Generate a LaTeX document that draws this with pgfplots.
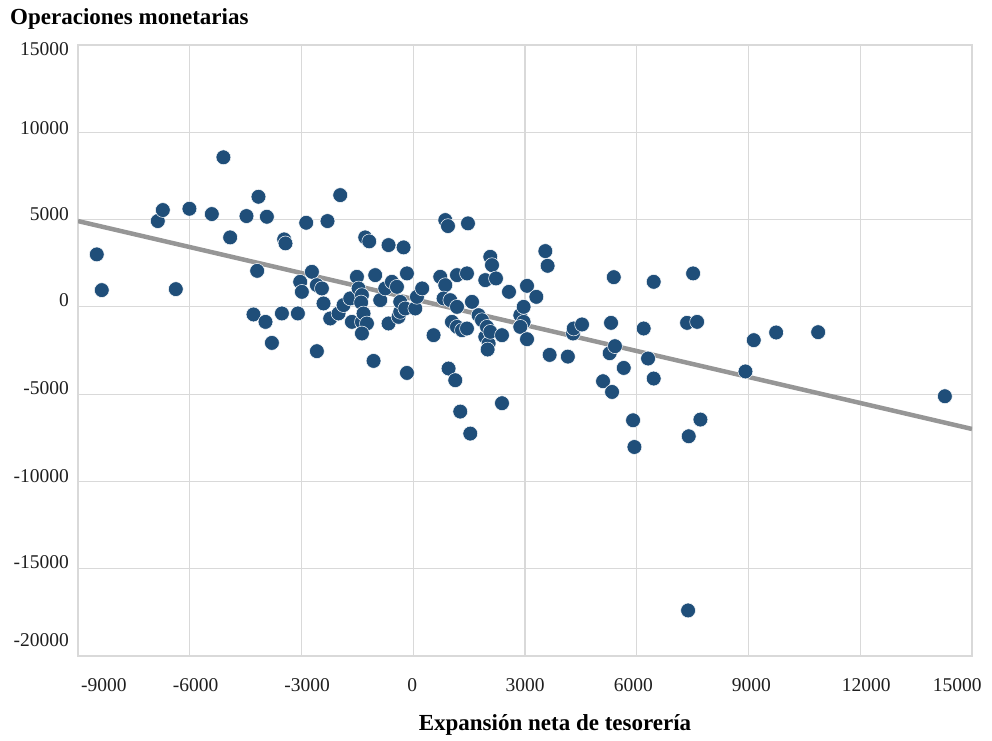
\documentclass[border=0pt]{standalone}
\usepackage{pgfplots}
\pgfplotsset{compat=1.18}
\usepackage{pgfplotstable}
\usepackage{fontspec}
\setmainfont{Liberation Serif}
\definecolor{dotblue}{RGB}{31,78,121}
\definecolor{gridgray}{RGB}{217,217,217}
\definecolor{trendgray}{RGB}{150,150,150}
\pgfplotstableread{
x y
-8496 3005
-8362 958
-6858 4914
-6723 5545
-6374 1015
-6009 5620
-5407 5315
-5096 8567
-4915 3979
-4477 5201
-4289 -436
-4190 2064
-4155 6307
-3967 -860
-3930 5161
-3795 -2064
-3526 -378
-3465 3864
-3430 3635
-3097 -378
-3035 1434
-2990 860
-2874 4817
-2721 2007
-2587 1244
-2587 -2540
-2452 1055
-2409 195
-2302 4914
-2229 -665
-2006 -378
-1872 100
-1692 482
-1960 6400
-1512 1720
-1468 1055
-1378 671
-1400 250
-1647 -860
-1378 -860
-1335 -378
-1244 -952
-1378 -1525
-1289 3979
-1182 3750
-1066 -3096
-1021 1818
-886 384
-752 1055
-663 3538
-663 -952
-572 1434
-438 1147
-395 -573
-349 -287
-349 287
-260 3406
-215 -92
-169 1915
-169 -3784
54 -92
99 573
240 1055
545 -1623
725 1720
860 1244
814 482
994 384
860 4971
932 4627
948 -3532
1039 -860
1128 -4203
1174 1818
1174 0
1174 -1147
1262 -5998
1308 -1336
1442 1915
1442 -1240
1469 4782
1531 -7259
1577 287
1754 -476
1845 -763
1934 1531
1934 -1720
1980 -1147
2023 -2100
1996 -2443
2068 -1433
2068 2867
2114 2391
2221 1628
2382 -1623
2382 -5520
2570 860
2874 -476
2963 -860
2874 -1147
2963 0
3054 -1852
3054 1204
3304 573
3546 3194
3607 2351
3661 -2752
4150 -2850
4290 -1525
4307 -1240
4531 -1009
5095 -4260
5273 -2655
5337 -4874
5310 -917
5383 1700
5415 -2253
5651 -3498
5901 -6497
5937 -8028
6186 -1240
6304 -2959
6455 1434
6455 -4106
7351 -917
7378 -17391
7395 -7414
7513 1915
7620 -860
7709 -6456
8918 -3700
9141 -1909
9742 -1468
10870 -1451
14271 -5121
}\datatable
\begin{document}
\begin{tikzpicture}
\useasboundingbox (0,0) rectangle (992pt,740pt);
\begin{axis}[
  at={(78pt,84pt)}, anchor=south west,
  width=894pt, height=611pt, scale only axis,
  xmin=-9000, xmax=15000, ymin=-20000, ymax=15000,
  scaled ticks=false,
  xtick={-9000,-6000,-3000,0,3000,6000,9000,12000,15000},
  ytick={-20000,-15000,-10000,-5000,0,5000,10000,15000},
  xticklabels={,,,,,,,,}, yticklabels={,,,,,,,},
  extra x ticks={-8308,-5842,-2847,-27,3000,5911,9076,12160,14604},
  extra x tick labels={-9000,-6000,-3000,0,3000,6000,9000,12000,15000},
  extra y ticks={-19111,-14639,-9690,-4662,384,5315,10247,14777},
  extra y tick labels={-20000,-15000,-10000,-5000,0,5000,10000,15000},
  extra tick style={grid=none, major tick length=0pt},
  grid=major, grid style={draw=gridgray, line width=1.1pt},
  axis line style={draw=gridgray, line width=1.1pt},
  major tick length=0pt,
  tick label style={font=\fontsize{19.5}{21}\selectfont, text=black!88},
  xticklabel style={anchor=north, inner sep=0pt, yshift=-22pt},
  yticklabel style={anchor=east, inner sep=0pt, xshift=-9pt},
]
\addplot[trendgray, line width=4.5pt] coordinates {(-9000,4914) (15000,-6995)};
\addplot[only marks, mark=*, mark size=7.4pt,
  mark options={draw=white, line width=0.5pt, fill=dotblue}] table[x=x, y=y] {\datatable};
\end{axis}
\node[anchor=base west, inner sep=0pt, font=\fontsize{23}{26}\selectfont\bfseries] at (10pt,715pt) {Operaciones monetarias};
\node[anchor=base, inner sep=0pt, font=\fontsize{23}{26}\selectfont\bfseries] at (555pt,10pt) {Expansión neta de tesorería};
\end{tikzpicture}
\end{document}
